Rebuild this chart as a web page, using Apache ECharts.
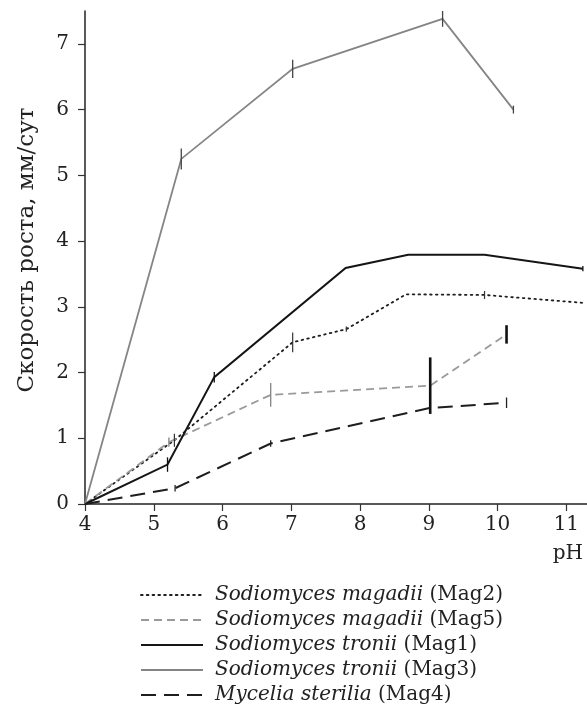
<!DOCTYPE html>
<html>
<head>
<meta charset="utf-8">
<script src="https://cdn.jsdelivr.net/npm/echarts@6/dist/echarts.min.js"></script>
<style>html,body{margin:0;padding:0;background:#fff;}#c{width:587px;height:709px;}</style>
</head>
<body>
<div id="c"></div>
<script>
// ---- data ----
const xTicks = [4, 5, 6, 7, 8, 9, 10, 11];
const yTicks = [0, 1, 2, 3, 4, 5, 6, 7];
const yTitle = 'Скорость роста, мм/сут';
const xTitle = 'pH';

const species = ['Sodiomyces magadii', 'Sodiomyces magadii', 'Sodiomyces tronii', 'Sodiomyces tronii', 'Mycelia sterilia'];
const strains = ['Mag2', 'Mag5', 'Mag1', 'Mag3', 'Mag4'];

const phMag2 = [4, 5.3, 7.02, 7.8, 8.67, 9.81, 11.24];
const valMag2 = [0, 0.97, 2.46, 2.66, 3.19, 3.18, 3.06];
const errMag2 = [0, 0.1, 0.15, 0.04, 0, 0.06, 0];

const phMag5 = [4, 5.22, 6.7, 9.02, 10.13];
const valMag5 = [0, 0.94, 1.66, 1.80, 2.58];
const errMag5 = [0, 0.07, 0.18, 0.43, 0.14];

const phMag1 = [4, 5.2, 5.88, 7.79, 8.7, 9.81, 11.24];
const valMag1 = [0, 0.6, 1.93, 3.59, 3.79, 3.79, 3.58];
const errMag1 = [0, 0.11, 0.08, 0, 0, 0, 0.04];

const phMag3 = [4, 5.4, 7.02, 9.2, 10.23];
const valMag3 = [0, 5.25, 6.62, 7.38, 6.0];
const errMag3 = [0, 0.16, 0.14, 0.12, 0.06];

const phMag4 = [4, 5.31, 6.7, 9.01, 10.13];
const valMag4 = [0, 0.24, 0.92, 1.46, 1.54];
const errMag4 = [0, 0.05, 0.05, 0, 0.08];

// ---- build ----
const FONT = 'DejaVu Serif';
const names = species.map((s, i) => s + ' (' + strains[i] + ')');
const zip = (xs, ys) => xs.map((x, i) => [x, ys[i]]);
const zip3 = (xs, ys, es) => xs.map((x, i) => [x, ys[i], es[i]]);

const styles = [
  { color: '#1e1e1e', width: 1.8, type: [1.6, 4.2], cap: 'round' },
  { color: '#9a9a9a', width: 1.8, type: [8, 5], cap: 'butt' },
  { color: '#151515', width: 2, type: 'solid', cap: 'butt' },
  { color: '#858585', width: 1.8, type: 'solid', cap: 'butt' },
  { color: '#1e1e1e', width: 2, type: [15, 8], cap: 'butt' }
];
const seriesData = [
  [phMag2, valMag2, errMag2],
  [phMag5, valMag5, errMag5],
  [phMag1, valMag1, errMag1],
  [phMag3, valMag3, errMag3],
  [phMag4, valMag4, errMag4]
];
const errStyle = [
  { color: '#333', width: 1.2 },
  { color: '#888', width: 1.4, heavyFrom: 3, heavyColor: '#111', heavyWidth: 2.6 },
  { color: '#111', width: 1.3 },
  { color: '#444', width: 1.3 },
  { color: '#222', width: 1.3 }
];

const series = [];
seriesData.forEach((d, i) => {
  const st = styles[i];
  series.push({
    name: names[i],
    type: 'line',
    data: zip(d[0], d[1]),
    symbol: 'none',
    showSymbol: false,
    silent: true,
    z: 2 + i,
    lineStyle: { color: st.color, width: st.width, type: st.type, cap: st.cap, join: 'miter' },
    itemStyle: { color: st.color }
  });
  const es = errStyle[i];
  series.push({
    type: 'custom',
    silent: true,
    z: 10,
    data: zip3(d[0], d[1], d[2]),
    renderItem: function (params, api) {
      const e = api.value(2);
      if (!e) return null;
      const x = api.value(0), y = api.value(1);
      const p1 = api.coord([x, y + e]);
      const p2 = api.coord([x, y - e]);
      const heavy = es.heavyFrom !== undefined && params.dataIndex >= es.heavyFrom;
      return {
        type: 'line',
        shape: { x1: p1[0], y1: p1[1], x2: p2[0], y2: p2[1] },
        style: { stroke: heavy ? es.heavyColor : es.color, lineWidth: heavy ? es.heavyWidth : es.width }
      };
    }
  });
});

const chart = echarts.init(document.getElementById('c'), null, { renderer: 'canvas' });
chart.setOption({
  animation: false,
  backgroundColor: '#fff',
  grid: { left: 85, top: 11, width: 502, height: 493, containLabel: false, outerBoundsMode: 'none' },
  xAxis: {
    type: 'value', min: 4, max: 11.3,
    splitLine: { show: false },
    axisLine: { onZero: false, lineStyle: { color: '#222', width: 1.5 } },
    axisTick: { show: true, length: 7, lineStyle: { color: '#333', width: 1.2 }, customValues: xTicks },
    axisLabel: { customValues: xTicks, margin: 11, color: '#222', fontFamily: FONT, fontSize: 20 }
  },
  yAxis: {
    type: 'value', min: 0, max: 7.5,
    name: yTitle, nameLocation: 'middle', nameRotate: 90, nameGap: 46,
    nameTextStyle: { color: '#222', fontFamily: FONT, fontSize: 23, padding: [0, 0, 0, 15] },
    splitLine: { show: false },
    axisLine: { onZero: false, lineStyle: { color: '#222', width: 1.5 } },
    axisTick: { show: true, length: 7, lineStyle: { color: '#333', width: 1.2 }, customValues: yTicks },
    axisLabel: { customValues: yTicks, margin: 16, color: '#222', fontFamily: FONT, fontSize: 20 }
  },
  legend: {
    data: names,
    orient: 'vertical',
    left: 140, top: 585,
    padding: 0,
    itemWidth: 62, itemHeight: 14, itemGap: 5,
    selectedMode: false,
    itemStyle: { opacity: 0 },
    formatter: function (name) {
      const i = names.indexOf(name);
      return '{i|' + species[i] + '} {n|(' + strains[i] + ')}';
    },
    textStyle: {
      color: '#222', fontFamily: FONT, fontSize: 20, padding: [0, 0, 0, 7],
      rich: {
        i: { fontFamily: FONT, fontStyle: 'italic', fontSize: 20, color: '#222' },
        n: { fontFamily: FONT, fontSize: 20, color: '#222' }
      }
    }
  },
  graphic: [{
    type: 'text', right: 4, top: 544,
    style: { text: xTitle, fill: '#222', font: '20px "DejaVu Serif"' }
  }],
  series: series
});
</script>
</body>
</html>
